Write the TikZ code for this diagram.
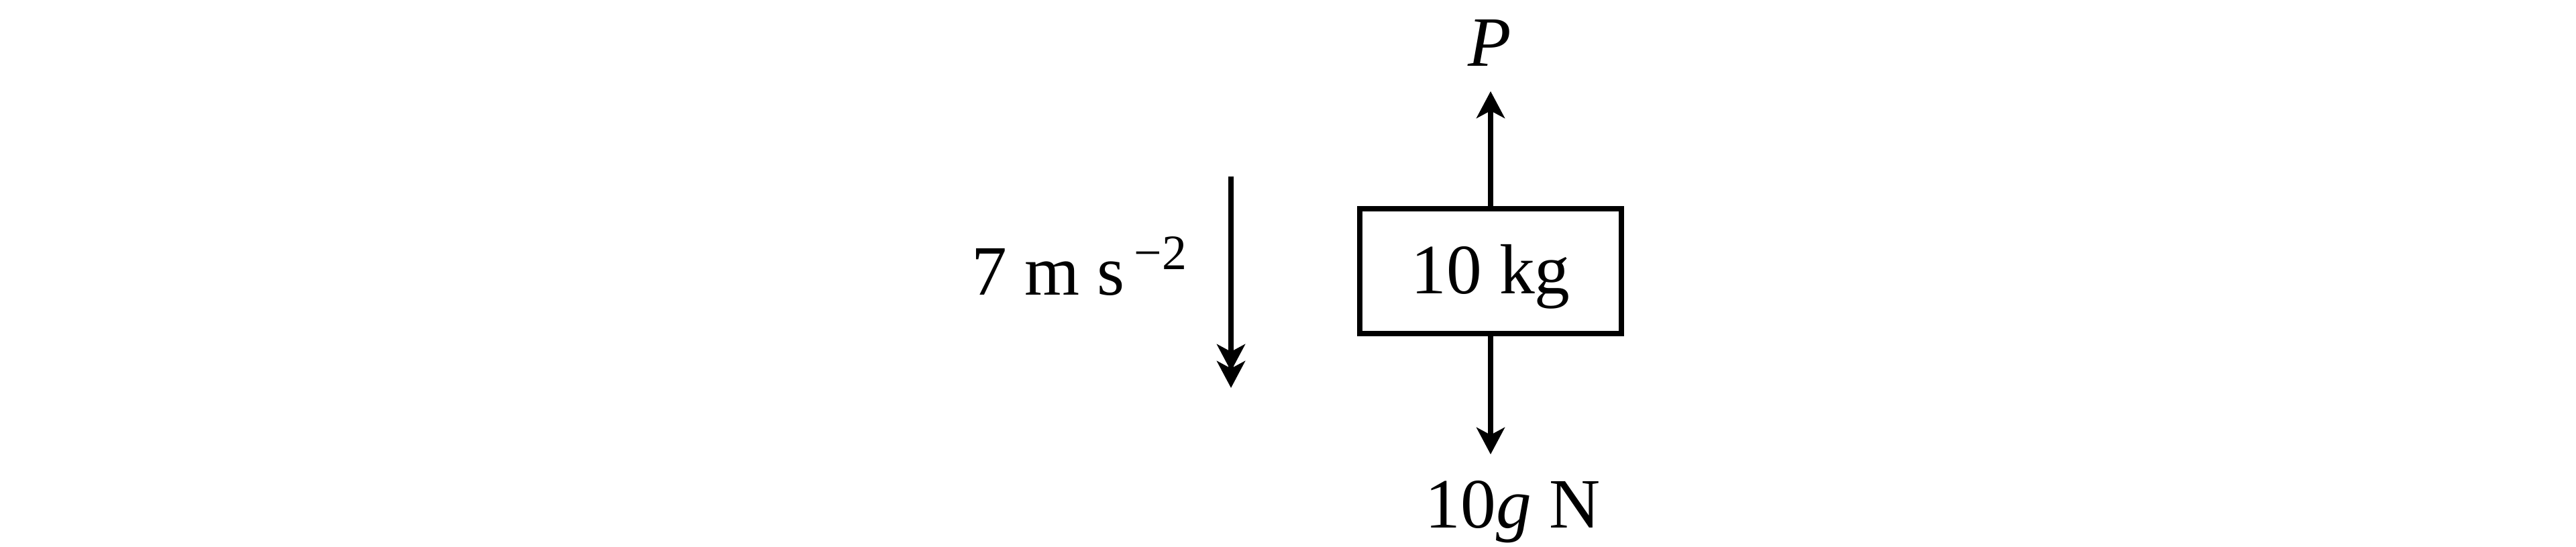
\documentclass[tikz,border=0pt]{standalone}
\usepackage{fontspec}
\setmainfont{Liberation Serif}
\usetikzlibrary{arrows.meta,calc}
\tikzset{
  force/.style={line width=2.4pt,-{Stealth[length=0.40cm,width=0.42cm,inset=0.11cm]}},
  massbox/.style={draw,line width=2.4pt,minimum width=3.90cm,minimum height=1.86cm,inner sep=0pt,text height=0.68cm,text depth=0pt},
  lbl/.style={inner sep=0pt,font=\fontsize{30}{36}\selectfont}
}
\begin{document}
\begin{tikzpicture}
\useasboundingbox (0,0) rectangle (38.4,8.15);
\node[massbox,lbl] (box) at (22.22,4.11) {10 kg};
\coordinate (ptip) at (22.22,6.79);
\coordinate (wtip) at (22.22,1.38);
\node[lbl,anchor=base] (P) at (22.21,7.16) {\textit{P}};
\node[lbl,anchor=base] (W) at (22.55,0.28) {10\textit{g} N};
\draw[force] (box.north) -- (ptip);
\draw[force] (box.south) -- (wtip);
\coordinate (atop) at (18.35,5.52);
\coordinate (atip) at (18.35,2.37);
\coordinate (atip2) at (18.35,2.62);
\draw[force] (atop) -- (atip);
\draw[force] (atop) -- (atip2);
\node[lbl,anchor=base east] (acc) at (17.70,3.75) {7 m s\hspace{4pt}\raisebox{11pt}{\fontsize{21}{24}\selectfont −2}};
\end{tikzpicture}
\end{document}
